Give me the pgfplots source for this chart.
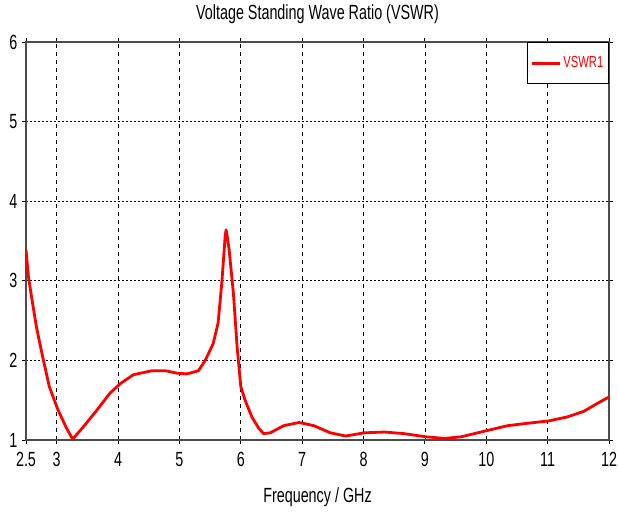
\documentclass[border=0pt]{standalone}
\usepackage{fontspec}
\setmainfont{Liberation Sans}[FakeStretch=0.7]
\usepackage{pgfplots}
\pgfplotsset{compat=1.18}
\begin{document}
\begin{tikzpicture}[x=1pt,y=1pt]
\useasboundingbox (0,0) rectangle (618,513);
\begin{axis}[
  at={(26pt,73pt)}, anchor=south west,
  scale only axis, width=583pt, height=398pt,
  xmin=2.5, xmax=12, ymin=1, ymax=6,
  xtick={2.5,3,4,5,6,7,8,9,10,11,12},
  xticklabels={2.5,3,4,5,6,7,8,9,10,11,12},
  ytick={1,2,3,4,5,6},
  /pgf/number format/assume math mode=true,
  tick align=outside, major tick length=4pt,
  tick style={black, line width=0.8pt},
  axis line style={gray!60!black, line width=1.2pt},
  ticklabel style={font=\fontsize{20.5}{22}\selectfont},
  xticklabel style={yshift=-5pt},
  yticklabel style={xshift=-1pt},
  grid=major,
  x grid style={black, line width=0.6pt, dash pattern=on 4pt off 4pt},
  y grid style={black, line width=0.6pt, dash pattern=on 2pt off 2pt},
  title={Voltage Standing Wave Ratio (VSWR)},
  title style={font=\fontsize{20.5}{22}\selectfont, anchor=center, at={(axis description cs:0.5,1)}, yshift=22pt},
  xlabel={Frequency / GHz},
  xlabel style={font=\fontsize{20.5}{22}\selectfont, anchor=center, at={(axis description cs:0.5,0)}, yshift=-57pt},
  legend style={at={(1,1)}, anchor=north east, draw=black, line width=1.5pt,
    font=\fontsize{16}{18}\selectfont, text=red, inner xsep=3pt, inner ysep=12pt,
    legend cell align=left},
  legend image code/.code={\draw[#1, line width=3pt] (0pt,0pt) -- (28pt,0pt);},
]
\addplot[red, line width=2.8pt, line join=round] coordinates {
(2.50,3.39) (2.54,3.05) (2.59,2.80) (2.67,2.42) (2.77,2.05) (2.88,1.67)
(3.02,1.38) (3.16,1.15) (3.26,1.01) (3.44,1.17) (3.66,1.38) (3.87,1.59)
(4.04,1.71) (4.25,1.82) (4.55,1.87) (4.77,1.87) (4.96,1.84) (5.12,1.83)
(5.31,1.87) (5.42,2.00) (5.55,2.21) (5.63,2.47) (5.69,2.97) (5.73,3.39)
(5.745,3.56) (5.76,3.64) (5.775,3.58) (5.81,3.39) (5.88,2.84) (5.94,2.17) (6.00,1.67) (6.07,1.50)
(6.18,1.29) (6.29,1.15) (6.37,1.08) (6.48,1.09) (6.70,1.18) (6.95,1.22)
(7.19,1.18) (7.46,1.09) (7.71,1.05) (8.01,1.09) (8.34,1.10) (8.66,1.08)
(9.02,1.04) (9.32,1.02) (9.59,1.04) (10.02,1.12) (10.35,1.18) (10.67,1.21)
(11.02,1.24) (11.32,1.29) (11.59,1.36) (11.81,1.46) (12.00,1.54)
};
\addlegendentry{VSWR1}
\end{axis}
\end{tikzpicture}
\end{document}
